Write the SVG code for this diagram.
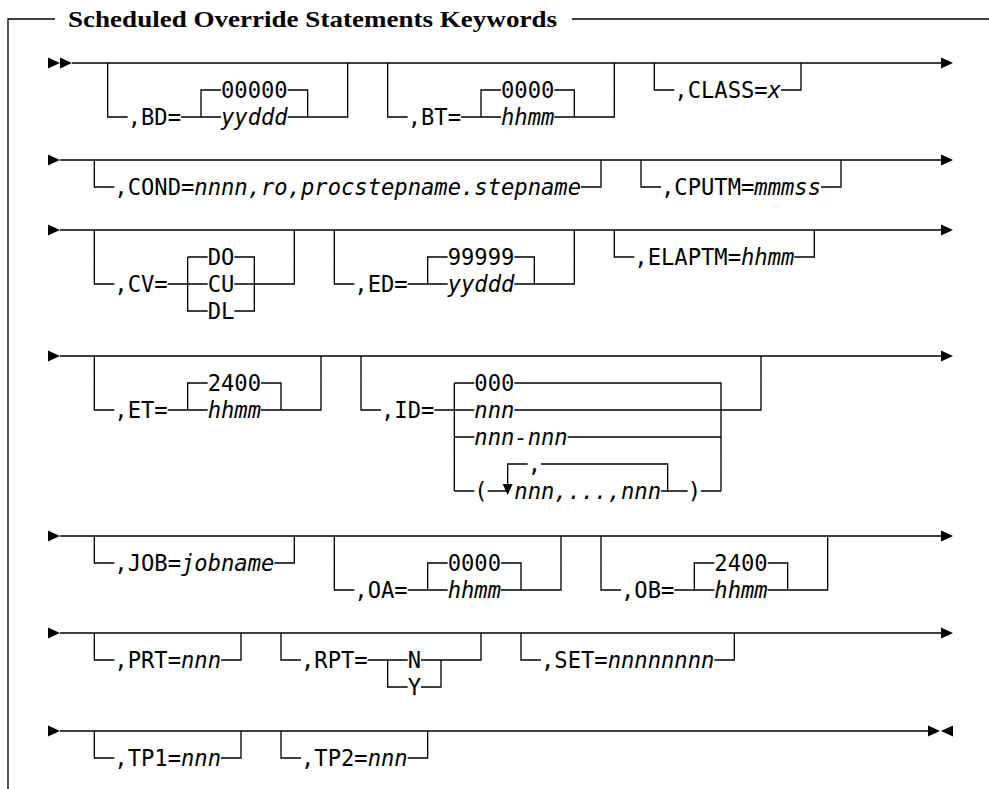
<svg xmlns="http://www.w3.org/2000/svg" width="989" height="789" viewBox="0 0 989 789">
<style>
.ln{stroke:#000;stroke-width:1.3;fill:none}
.ar{fill:#000;stroke:none}
.t{font-family:"DejaVu Sans Mono",monospace;font-size:23px;fill:#000}
.i{font-style:italic}
.title{font-family:"Liberation Serif","Times New Roman",serif;font-weight:bold;font-size:24px;fill:#000}
</style>
<rect width="989" height="789" fill="#fff"/>
<g id="frame">
<path class="ln" d="M55,19 H8 V789 M572,19 H989"/>
<text class="title" x="68" y="27" textLength="489" lengthAdjust="spacingAndGlyphs">Scheduled Override Statements Keywords</text>
</g>
<g id="connectors">
<path class="ln" d="M72,63 H941 M60,160 H941 M60,230 H941 M60,356 H941 M60,536 H941 M60,633 H941 M60,731 H928"/>
<polygon class="ar" points="48,57.5 48,68.5 60,63"/>
<polygon class="ar" points="60,57.5 60,68.5 72,63"/>
<polygon class="ar" points="941,57.5 941,68.5 953,63"/>
<polygon class="ar" points="48,154.5 48,165.5 60,160"/>
<polygon class="ar" points="941,154.5 941,165.5 953,160"/>
<polygon class="ar" points="48,224.5 48,235.5 60,230"/>
<polygon class="ar" points="941,224.5 941,235.5 953,230"/>
<polygon class="ar" points="48,350.5 48,361.5 60,356"/>
<polygon class="ar" points="941,350.5 941,361.5 953,356"/>
<polygon class="ar" points="48,530.5 48,541.5 60,536"/>
<polygon class="ar" points="941,530.5 941,541.5 953,536"/>
<polygon class="ar" points="48,627.5 48,638.5 60,633"/>
<polygon class="ar" points="941,627.5 941,638.5 953,633"/>
<polygon class="ar" points="48,725.5 48,736.5 60,731"/>
<polygon class="ar" points="928,725.5 928,736.5 940,731"/>
<polygon class="ar" points="953,725.5 953,736.5 941,731"/>
</g>
<g id="bd">
<path class="ln" d="M107.67,63 V117 H127.67 M181,117 H221 M287.67,117 H347.67 V63 M201,117 V90 H221 M287.67,90 H307.67 V117"/>
<text class="t" x="127.67" y="125" textLength="53.33" lengthAdjust="spacingAndGlyphs">,BD=</text>
<text class="t" x="221" y="98" textLength="66.67" lengthAdjust="spacingAndGlyphs">00000</text>
<text class="t i" x="221" y="125" textLength="66.67" lengthAdjust="spacingAndGlyphs">yyddd</text>
</g>
<g id="bt">
<path class="ln" d="M387.67,63 V117 H407.67 M461,117 H501 M554.33,117 H614.33 V63 M481,117 V90 H501 M554.33,90 H574.33 V117"/>
<text class="t" x="407.67" y="125" textLength="53.33" lengthAdjust="spacingAndGlyphs">,BT=</text>
<text class="t" x="501" y="98" textLength="53.33" lengthAdjust="spacingAndGlyphs">0000</text>
<text class="t i" x="501" y="125" textLength="53.33" lengthAdjust="spacingAndGlyphs">hhmm</text>
</g>
<g id="class">
<path class="ln" d="M654.33,63 V90 H674.33 M781,90 H801 V63"/>
<text class="t" x="674.33" y="98" textLength="106.67" lengthAdjust="spacingAndGlyphs">,CLASS=<tspan class="i">x</tspan></text>
</g>
<g id="cond">
<path class="ln" d="M94.33,160 V187 H114.33 M581,187 H601 V160"/>
<text class="t" x="114.33" y="195" textLength="80" lengthAdjust="spacingAndGlyphs">,COND=</text>
<text class="t i" x="194.33" y="195" textLength="386.67" lengthAdjust="spacingAndGlyphs">nnnn,ro,procstepname.stepname</text>
</g>
<g id="cputm">
<path class="ln" d="M641,160 V187 H661 M821,187 H841 V160"/>
<text class="t" x="661" y="195" textLength="93.33" lengthAdjust="spacingAndGlyphs">,CPUTM=</text>
<text class="t i" x="754.33" y="195" textLength="66.67" lengthAdjust="spacingAndGlyphs">mmmss</text>
</g>
<g id="cv">
<path class="ln" d="M94.33,230 V284 H114.33 M167.67,284 H207.67 M234.33,284 H294.33 V230 M187.67,257 V311 H207.67 M187.67,257 H207.67 M234.33,257 H254.33 V311 H234.33"/>
<text class="t" x="114.33" y="292" textLength="53.33" lengthAdjust="spacingAndGlyphs">,CV=</text>
<text class="t" x="207.67" y="265" textLength="26.67" lengthAdjust="spacingAndGlyphs">DO</text>
<text class="t" x="207.67" y="292" textLength="26.67" lengthAdjust="spacingAndGlyphs">CU</text>
<text class="t" x="207.67" y="319" textLength="26.67" lengthAdjust="spacingAndGlyphs">DL</text>
</g>
<g id="ed">
<path class="ln" d="M334.33,230 V284 H354.33 M407.67,284 H447.67 M514.33,284 H574.33 V230 M427.67,284 V257 H447.67 M514.33,257 H534.33 V284"/>
<text class="t" x="354.33" y="292" textLength="53.33" lengthAdjust="spacingAndGlyphs">,ED=</text>
<text class="t" x="447.67" y="265" textLength="66.67" lengthAdjust="spacingAndGlyphs">99999</text>
<text class="t i" x="447.67" y="292" textLength="66.67" lengthAdjust="spacingAndGlyphs">yyddd</text>
</g>
<g id="elaptm">
<path class="ln" d="M614.33,230 V257 H634.33 M794.33,257 H814.33 V230"/>
<text class="t" x="634.33" y="265" textLength="106.67" lengthAdjust="spacingAndGlyphs">,ELAPTM=</text>
<text class="t i" x="741" y="265" textLength="53.33" lengthAdjust="spacingAndGlyphs">hhmm</text>
</g>
<g id="et">
<path class="ln" d="M94.33,356 V410 H114.33 M167.67,410 H207.67 M261,410 H321 V356 M187.67,410 V383 H207.67 M261,383 H281 V410"/>
<text class="t" x="114.33" y="418" textLength="53.33" lengthAdjust="spacingAndGlyphs">,ET=</text>
<text class="t" x="207.67" y="391" textLength="53.33" lengthAdjust="spacingAndGlyphs">2400</text>
<text class="t i" x="207.67" y="418" textLength="53.33" lengthAdjust="spacingAndGlyphs">hhmm</text>
</g>
<g id="id">
<path class="ln" d="M361,356 V410 H381 M434.33,410 H474.33 M514.33,410 H761 V356 M454.33,383 V491 M454.33,383 H474.33 M514.33,383 H721 V491 M454.33,437 H474.33 M567.67,437 H721 M454.33,491 H474.33 M487.67,491 H507.67 M661,491 H687.67 M701,491 H721 M507.67,485 V464 H527.67 M541,464 H667.67 V491"/>
<polygon class="ar" points="502.67,484 512.67,484 507.67,495"/>
<text class="t" x="381" y="418" textLength="53.33" lengthAdjust="spacingAndGlyphs">,ID=</text>
<text class="t" x="474.33" y="391" textLength="40" lengthAdjust="spacingAndGlyphs">000</text>
<text class="t i" x="474.33" y="418" textLength="40" lengthAdjust="spacingAndGlyphs">nnn</text>
<text class="t i" x="474.33" y="445" textLength="93.33" lengthAdjust="spacingAndGlyphs">nnn-nnn</text>
<text class="t" x="527.67" y="472" textLength="13.33" lengthAdjust="spacingAndGlyphs">,</text>
<text class="t" x="474.33" y="499" textLength="13.33" lengthAdjust="spacingAndGlyphs">(</text>
<text class="t i" x="514.33" y="499" textLength="146.67" lengthAdjust="spacingAndGlyphs">nnn,...,nnn</text>
<text class="t" x="687.67" y="499" textLength="13.33" lengthAdjust="spacingAndGlyphs">)</text>
</g>
<g id="job">
<path class="ln" d="M94.33,536 V563 H114.33 M274.33,563 H294.33 V536"/>
<text class="t" x="114.33" y="571" textLength="66.67" lengthAdjust="spacingAndGlyphs">,JOB=</text>
<text class="t i" x="181" y="571" textLength="93.33" lengthAdjust="spacingAndGlyphs">jobname</text>
</g>
<g id="oa">
<path class="ln" d="M334.33,536 V590 H354.33 M407.67,590 H447.67 M501,590 H561 V536 M427.67,590 V563 H447.67 M501,563 H521 V590"/>
<text class="t" x="354.33" y="598" textLength="53.33" lengthAdjust="spacingAndGlyphs">,OA=</text>
<text class="t" x="447.67" y="571" textLength="53.33" lengthAdjust="spacingAndGlyphs">0000</text>
<text class="t i" x="447.67" y="598" textLength="53.33" lengthAdjust="spacingAndGlyphs">hhmm</text>
</g>
<g id="ob">
<path class="ln" d="M601,536 V590 H621 M674.33,590 H714.33 M767.67,590 H827.67 V536 M694.33,590 V563 H714.33 M767.67,563 H787.67 V590"/>
<text class="t" x="621" y="598" textLength="53.33" lengthAdjust="spacingAndGlyphs">,OB=</text>
<text class="t" x="714.33" y="571" textLength="53.33" lengthAdjust="spacingAndGlyphs">2400</text>
<text class="t i" x="714.33" y="598" textLength="53.33" lengthAdjust="spacingAndGlyphs">hhmm</text>
</g>
<g id="prt">
<path class="ln" d="M94.33,633 V660 H114.33 M221,660 H241 V633"/>
<text class="t" x="114.33" y="668" textLength="66.67" lengthAdjust="spacingAndGlyphs">,PRT=</text>
<text class="t i" x="181" y="668" textLength="40" lengthAdjust="spacingAndGlyphs">nnn</text>
</g>
<g id="rpt">
<path class="ln" d="M281,633 V660 H301 M367.67,660 H407.67 M421,660 H481 V633 M387.67,660 V687 H407.67 M421,687 H441 V660"/>
<text class="t" x="301" y="668" textLength="66.67" lengthAdjust="spacingAndGlyphs">,RPT=</text>
<text class="t" x="407.67" y="668" textLength="13.33" lengthAdjust="spacingAndGlyphs">N</text>
<text class="t" x="407.67" y="695" textLength="13.33" lengthAdjust="spacingAndGlyphs">Y</text>
</g>
<g id="set">
<path class="ln" d="M521,633 V660 H541 M714.33,660 H734.33 V633"/>
<text class="t" x="541" y="668" textLength="66.67" lengthAdjust="spacingAndGlyphs">,SET=</text>
<text class="t i" x="607.67" y="668" textLength="106.67" lengthAdjust="spacingAndGlyphs">nnnnnnnn</text>
</g>
<g id="tp1">
<path class="ln" d="M94.33,731 V758 H114.33 M221,758 H241 V731"/>
<text class="t" x="114.33" y="766" textLength="66.67" lengthAdjust="spacingAndGlyphs">,TP1=</text>
<text class="t i" x="181" y="766" textLength="40" lengthAdjust="spacingAndGlyphs">nnn</text>
</g>
<g id="tp2">
<path class="ln" d="M281,731 V758 H301 M407.67,758 H427.67 V731"/>
<text class="t" x="301" y="766" textLength="66.67" lengthAdjust="spacingAndGlyphs">,TP2=</text>
<text class="t i" x="367.67" y="766" textLength="40" lengthAdjust="spacingAndGlyphs">nnn</text>
</g>
</svg>
